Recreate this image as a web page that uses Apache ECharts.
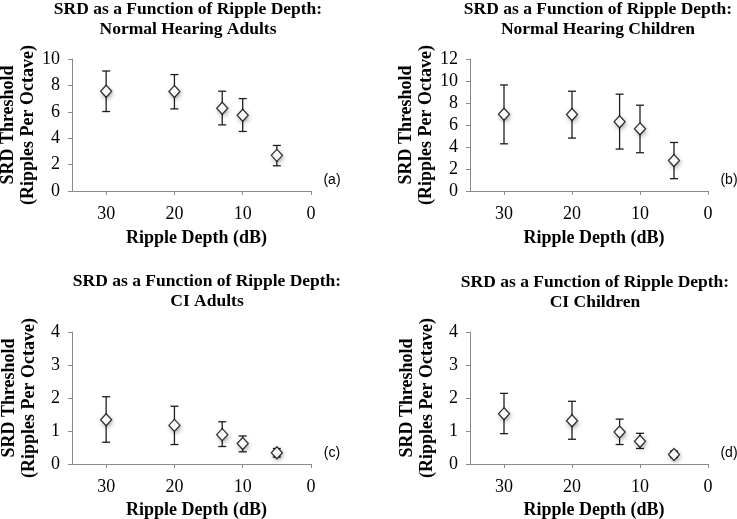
<!DOCTYPE html>
<html>
<head>
<meta charset="utf-8">
<script src="https://cdn.jsdelivr.net/npm/echarts@6/dist/echarts.min.js"></script>
<style>
  html, body { margin: 0; padding: 0; background: #fff; }
  #main { width: 737px; height: 519px; }
</style>
</head>
<body>
<div id="main"></div>
<script>
// ripple depth (dB) for every panel
const depths = [30, 20, 13, 10, 5];

// (a) normal hearing adults
const nhAdultMean = [7.56, 7.53, 6.27, 5.74, 2.70];
const nhAdultHigh = [9.09, 8.82, 7.56, 7.00, 3.45];
const nhAdultLow = [6.02, 6.22, 5.01, 4.51, 1.91];

// (b) normal hearing children
const nhChildMean = [6.98, 6.95, 6.29, 5.65, 2.78];
const nhChildHigh = [9.64, 9.07, 8.80, 7.80, 4.41];
const nhChildLow = [4.29, 4.81, 3.81, 3.48, 1.12];

// (c) CI adults
const ciAdultMean = [1.34, 1.17, 0.89, 0.62, 0.34];
const ciAdultHigh = [2.04, 1.75, 1.28, 0.85, 0.47];
const ciAdultLow = [0.66, 0.59, 0.53, 0.37, 0.21];

// (d) CI children
const ciChildMean = [1.52, 1.31, 0.97, 0.69, 0.29];
const ciChildHigh = [2.14, 1.90, 1.36, 0.93, 0.39];
const ciChildLow = [0.92, 0.75, 0.59, 0.47, 0.20];

const xTicks = [0, 10, 20, 30];
const titles = [
    'SRD as a Function of Ripple Depth:\nNormal Hearing Adults',
    'SRD as a Function of Ripple Depth:\nNormal Hearing Children',
    'SRD as a Function of Ripple Depth:\nCI Adults',
    'SRD as a Function of Ripple Depth:\nCI Children'
];
const panelTags = ['(a)', '(b)', '(c)', '(d)'];
const yMax = [10, 12, 4, 4];
const yStep = [2, 2, 1, 1];

const panels = [
    {mean: nhAdultMean, hi: nhAdultHigh, lo: nhAdultLow},
    {mean: nhChildMean, hi: nhChildHigh, lo: nhChildLow},
    {mean: ciAdultMean, hi: ciAdultHigh, lo: ciAdultLow},
    {mean: ciChildMean, hi: ciChildHigh, lo: ciChildLow}
];

// layout
const grids = [
    {left: 72, top: 59, width: 239, height: 132, outerBoundsMode: 'none'},
    {left: 470, top: 59, width: 238, height: 132, outerBoundsMode: 'none'},
    {left: 72, top: 332, width: 239, height: 132, outerBoundsMode: 'none'},
    {left: 470, top: 332, width: 238, height: 132, outerBoundsMode: 'none'}
];
const titlePos = [[188, 0], [598, 0], [207, 272], [595, 273]];
const tagPos = [[332, 180], [729, 180], [332, 453], [729, 453]];
const xNameGap = [38, 38, 37, 37];

const serif = 'Liberation Serif';
const axisGray = '#8a8a8a';

const chart = echarts.init(document.getElementById('main'), null, {renderer: 'canvas'});

let option = {
    animation: false,
    backgroundColor: '#fff',
    title: titles.map((t, i) => ({
        text: t,
        left: titlePos[i][0],
        top: titlePos[i][1],
        textAlign: 'center',
        padding: 0,
        textStyle: {
            fontFamily: serif,
            fontWeight: 'bold',
            fontSize: 17.5,
            lineHeight: 19.5,
            color: '#000'
        }
    })),
    grid: grids,
    xAxis: grids.map((g, i) => ({
        type: 'value',
        gridIndex: i,
        min: 0,
        max: 35,
        inverse: true,
        name: 'Ripple Depth (dB)',
        nameLocation: 'middle',
        nameGap: xNameGap[i],
        nameTextStyle: {
            fontFamily: serif,
            fontWeight: 'bold',
            fontSize: 18,
            color: '#000',
            padding: [0, 0, 0, 10]
        },
        splitLine: {show: false},
        axisLine: {onZero: false, lineStyle: {color: axisGray, width: 1}},
        axisTick: {show: true, length: 4, customValues: xTicks, lineStyle: {color: axisGray}},
        axisLabel: {
            customValues: xTicks,
            margin: 14,
            fontFamily: serif,
            fontSize: 18,
            color: '#000'
        }
    })),
    yAxis: grids.map((g, i) => ({
        type: 'value',
        gridIndex: i,
        position: 'left',
        min: 0,
        max: yMax[i],
        interval: yStep[i],
        name: 'SRD Threshold\n(Ripples Per Octave)',
        nameLocation: 'middle',
        nameRotate: 90,
        nameGap: 33,
        nameTextStyle: {
            fontFamily: serif,
            fontWeight: 'bold',
            fontSize: 18,
            lineHeight: 20,
            color: '#000'
        },
        splitLine: {show: false},
        axisLine: {show: true, onZero: false, lineStyle: {color: axisGray, width: 1}},
        axisTick: {show: true, length: 4, lineStyle: {color: axisGray}},
        axisLabel: {
            margin: 12,
            fontFamily: serif,
            fontSize: 18,
            color: '#000'
        }
    })),
    graphic: panelTags.map((t, i) => ({
        type: 'text',
        x: tagPos[i][0],
        y: tagPos[i][1],
        style: {
            text: t,
            fontFamily: 'Liberation Sans',
            fontSize: 14,
            fill: '#000',
            align: 'center',
            verticalAlign: 'middle'
        }
    })),
    series: []
};

panels.forEach((p, i) => {
    const points = depths.map((d, k) => [d, p.mean[k]]);
    // error bars
    option.series.push({
        type: 'custom',
        xAxisIndex: i,
        yAxisIndex: i,
        z: 1,
        data: depths.map((d, k) => [d, p.lo[k], p.hi[k]]),
        renderItem: function (params, api) {
            const top = api.coord([api.value(0), api.value(2)]);
            const bot = api.coord([api.value(0), api.value(1)]);
            const cap = 4;
            const style = {stroke: '#1e1e1e', lineWidth: 1.3};
            return {
                type: 'group',
                children: [
                    {type: 'line', shape: {x1: top[0], y1: top[1], x2: bot[0], y2: bot[1]}, style: style},
                    {type: 'line', shape: {x1: top[0] - cap, y1: top[1], x2: top[0] + cap, y2: top[1]}, style: style},
                    {type: 'line', shape: {x1: bot[0] - cap, y1: bot[1], x2: bot[0] + cap, y2: bot[1]}, style: style}
                ]
            };
        }
    });
    // soft shadow under the markers
    option.series.push({
        type: 'scatter',
        xAxisIndex: i,
        yAxisIndex: i,
        z: 2,
        silent: true,
        symbol: 'diamond',
        symbolSize: [11, 12],
        data: points,
        itemStyle: {
            color: '#fff',
            shadowBlur: 5,
            shadowColor: 'rgba(0,0,0,0.55)',
            shadowOffsetX: 1,
            shadowOffsetY: 2
        }
    });
    // mean markers
    option.series.push({
        type: 'scatter',
        xAxisIndex: i,
        yAxisIndex: i,
        z: 3,
        symbol: 'diamond',
        symbolSize: [11, 12],
        data: points,
        itemStyle: {
            color: '#fff',
            borderColor: '#000',
            borderWidth: 1.3
        }
    });
});

chart.setOption(option);
</script>
</body>
</html>
